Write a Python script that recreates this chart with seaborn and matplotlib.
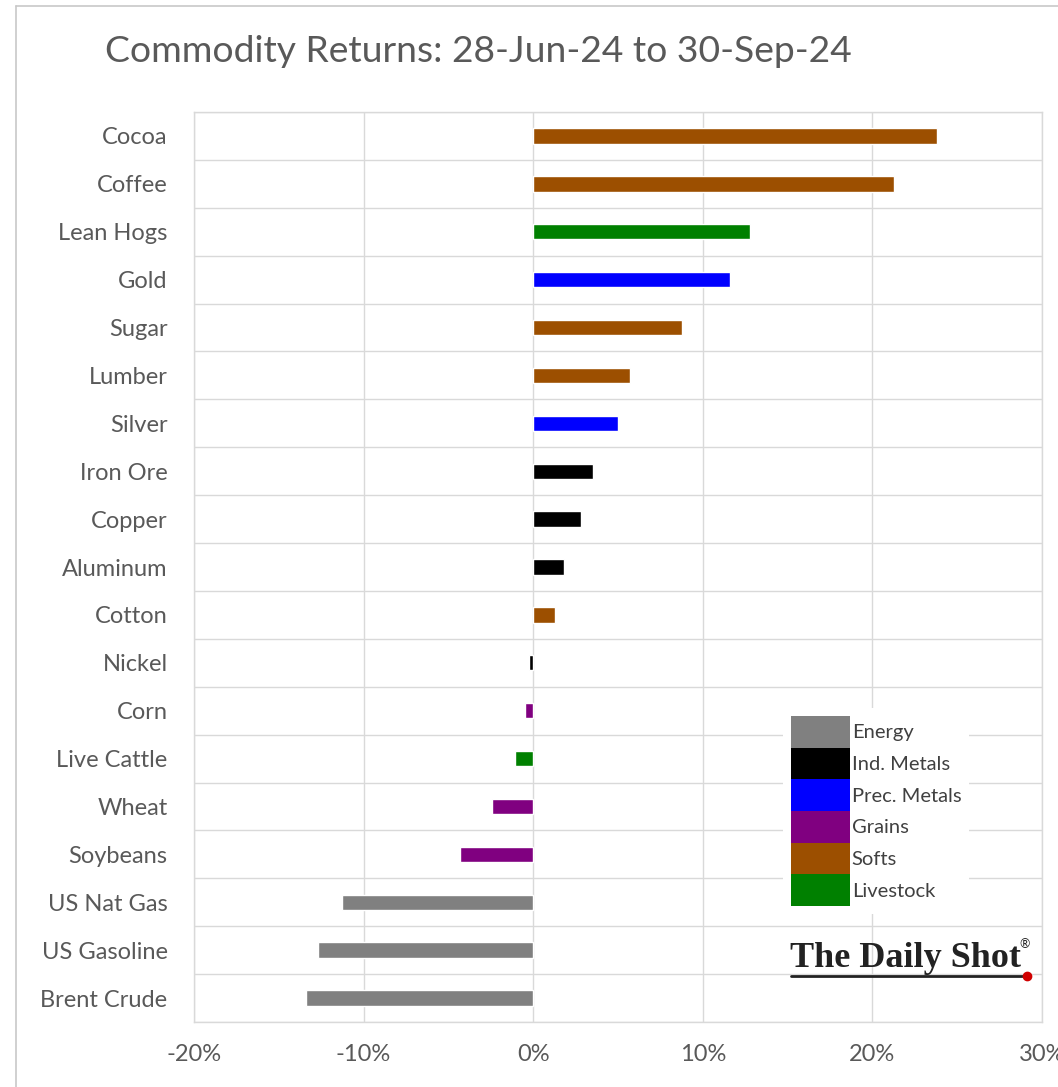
import matplotlib
matplotlib.use("Agg")
import matplotlib.pyplot as plt
import seaborn as sns
import pandas as pd
from matplotlib.patches import Patch
from matplotlib.lines import Line2D
from matplotlib.ticker import FixedLocator

commodities = ["Cocoa", "Coffee", "Lean Hogs", "Gold", "Sugar", "Lumber", "Silver",
               "Iron Ore", "Copper", "Aluminum", "Cotton", "Nickel", "Corn",
               "Live Cattle", "Wheat", "Soybeans", "US Nat Gas", "US Gasoline", "Brent Crude"]
returns = [23.8, 21.3, 12.8, 11.6, 8.8, 5.7, 5.0, 3.5, 2.8, 1.8, 1.3, -0.25, -0.5,
           -1.1, -2.4, -4.3, -11.3, -12.7, -13.4]
groups = ["Softs", "Softs", "Livestock", "Prec. Metals", "Softs", "Softs", "Prec. Metals",
          "Ind. Metals", "Ind. Metals", "Ind. Metals", "Softs", "Ind. Metals", "Grains",
          "Livestock", "Grains", "Grains", "Energy", "Energy", "Energy"]
legend_order = ["Energy", "Ind. Metals", "Prec. Metals", "Grains", "Softs", "Livestock"]
group_colors = {"Energy": "#808080", "Ind. Metals": "#000000", "Prec. Metals": "#0000FF",
                "Grains": "#800080", "Softs": "#9C4F00", "Livestock": "#008000"}
x_ticks = [-20, -10, 0, 10, 20, 30]
x_tick_labels = ["-20%", "-10%", "0%", "10%", "20%", "30%"]

df = pd.DataFrame({"commodity": commodities, "ret": returns, "group": groups})

sns.set_theme(style="white")
plt.rcParams["font.family"] = ["Lato", "DejaVu Sans"]

fig = plt.figure(figsize=(10.58, 10.87), dpi=100)
ax = fig.add_axes([194/1058, 1 - 1022/1087, (1042-194)/1058, (1022-112)/1087])

sns.barplot(data=df, x="ret", y="commodity", hue="group", palette=group_colors,
            dodge=False, width=0.32, orient="h", ax=ax, legend=False, saturation=1)

ax.set_xlim(-20, 30)
ax.set_ylim(len(commodities) - 0.5, -0.5)
ax.set_xticks(x_ticks)
ax.set_xticklabels(x_tick_labels)
ax.yaxis.set_minor_locator(FixedLocator([i + 0.5 for i in range(-1, len(commodities))]))
ax.grid(True, axis="x", which="major", color="#d9d9d9", linewidth=1)
ax.grid(True, axis="y", which="minor", color="#d9d9d9", linewidth=1)
ax.grid(False, axis="y", which="major")
ax.set_axisbelow(True)
for s in ax.spines.values():
    s.set_color("#d9d9d9")
    s.set_linewidth(1)
ax.set_xlabel("")
ax.set_ylabel("")
ax.tick_params(axis="y", which="both", length=0, pad=19, labelsize=17, labelcolor="#595959")
ax.tick_params(axis="x", which="both", length=0, pad=16, labelsize=17, labelcolor="#595959")

handles = [Patch(facecolor=group_colors[g], edgecolor="none", label=g) for g in legend_order]
leg = ax.legend(handles=handles, loc="upper left", bbox_to_anchor=(0.683, 0.356),
                frameon=True, fontsize=14.5, labelspacing=0, handlelength=2.9,
                handleheight=2.04, handletextpad=0.1, borderpad=0.4, fancybox=False)
leg.get_frame().set_facecolor("white")
leg.get_frame().set_edgecolor("none")
leg.get_frame().set_alpha(1)
for t in leg.get_texts():
    t.set_color("#404040")

fig.text(105/1058, 1 - 62/1087, "Commodity Returns: 28-Jun-24 to 30-Sep-24",
         fontsize=26.8, color="#595959", ha="left", va="baseline")

# logo
fig.text(790/1058, 1 - 967/1087, "The Daily Shot", family=["Liberation Serif", "DejaVu Serif"],
         fontsize=26, fontweight="bold", color="#222222", ha="left", va="baseline")
fig.text(1019/1058, 1 - 948/1087, "®", fontsize=9, color="#222222", ha="left", va="baseline")
fig.add_artist(Line2D([791/1058, 1026/1058], [1 - 976/1087, 1 - 976/1087],
                      color="#222222", linewidth=2, transform=fig.transFigure))
fig.add_artist(Line2D([1027/1058], [1 - 976/1087], marker="o", markersize=6,
                      color="#d00000", transform=fig.transFigure))

# outer frame
fig.add_artist(Line2D([16/1058, 16/1058], [0, 1 - 6/1087], color="#c8c8c8", linewidth=1.2,
                      transform=fig.transFigure))
fig.add_artist(Line2D([16/1058, 1], [1 - 6/1087, 1 - 6/1087], color="#c8c8c8", linewidth=1.2,
                      transform=fig.transFigure))

fig.savefig("out.png", dpi=100)
